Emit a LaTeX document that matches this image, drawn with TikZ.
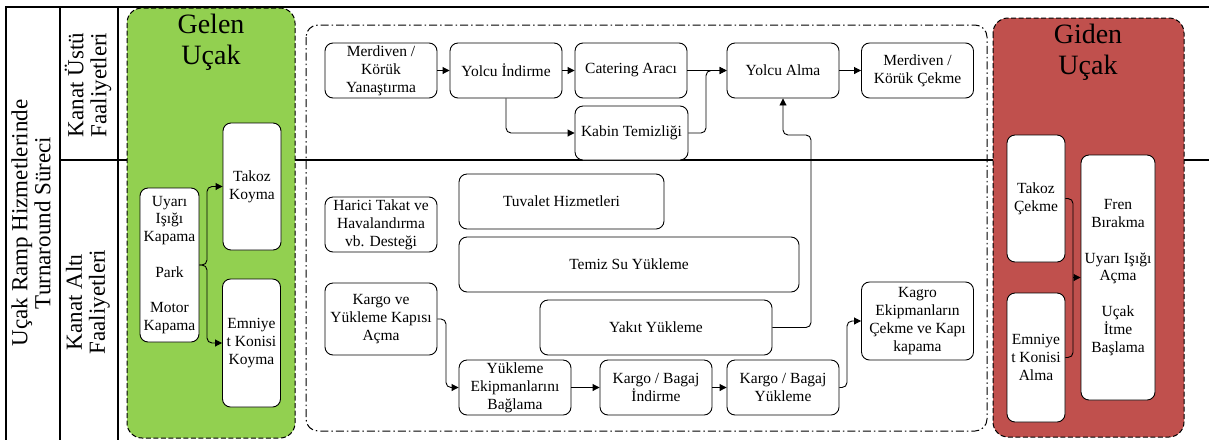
\documentclass[tikz,border=0pt]{standalone}
\usepackage{fontspec}
\setmainfont{Liberation Serif}
\usepackage{tikz}
\usetikzlibrary{arrows.meta, calc}

\definecolor{gelengreen}{RGB}{146, 208, 80}
\definecolor{gidenred}{RGB}{192, 80, 77}

\tikzset{
    actbox/.style={draw, rectangle, rounded corners=8pt, fill=white, line width=0.9pt, minimum width=112pt, minimum height=55pt, inner sep=2pt, align=center, font=\fontsize{15.5}{17.8}\selectfont},
    narrowbox/.style={actbox, minimum width=58pt},
    phasearea/.style={draw, dash pattern=on 5pt off 2.5pt, line width=1pt, rounded corners=15pt},
    flowarea/.style={draw, dash pattern=on 8pt off 3pt on 1.5pt off 3pt, line width=1pt, rounded corners=12pt},
    swimline/.style={line width=1.4pt},
    phasetitle/.style={align=center, font=\fontsize{28}{31}\selectfont},
    lanelabel/.style={rotate=90, align=center, font=\fontsize{23}{23}\selectfont},
    flowarrow/.style={-{Triangle[length=7pt, width=7pt]}, line width=0.9pt, rounded corners=5pt},
    flowline/.style={line width=0.9pt, rounded corners=5pt},
}

\begin{document}
\begin{tikzpicture}[x=1pt, y=-1pt]
    \useasboundingbox (0,0) rectangle (1209,440);

    \draw[swimline] (5,7) -- (1209,7);
    \draw[swimline] (6,7) -- (6,440);
    \draw[swimline] (60,7) -- (60,440);
    \draw[swimline] (118,7) -- (118,440);
    \draw[swimline] (60,160) -- (1209,160);

    \node[lanelabel] (process) at (31,223) {Uçak Ramp Hizmetlerinde\\Turnaround Süreci};
    \node[lanelabel] (upper) at (88,85) {Kanat Üstü\\Faaliyetleri};
    \node[lanelabel] (lower) at (88,302) {Kanat Altı\\Faaliyetleri};

    \path[phasearea, fill=gelengreen] (127,8) rectangle (295,438);
    \path[phasearea, fill=gidenred] (993,18) rectangle (1184,437);
    \path[flowarea] (306,25) rectangle (987,431);

    \node[phasetitle] (gelen) at (211,42) {Gelen\\Uçak};
    \node[phasetitle] (giden) at (1088,52) {Giden\\Uçak};

    \node[actbox, minimum width=59pt, minimum height=154pt] (uyari) at (169.5,265) {Uyarı\\Işığı\\Kapama\\[17.8pt]Park\\[17.8pt]Motor\\Kapama};
    \node[narrowbox, minimum height=127pt] (takozk) at (252,186.5) {Takoz\\Koyma};
    \node[narrowbox, minimum height=128pt] (emniyetk) at (251.5,343) {Emniye\\t Konisi\\Koyma};

    \node[actbox] (merdyan) at (381,70.5) {Merdiven /\\Körük\\Yanaştırma};
    \node[actbox] (yolcuind) at (506,70.5) {Yolcu İndirme};
    \node[actbox] (catering) at (631,70.5) {Catering Aracı};
    \node[actbox, minimum width=113pt, minimum height=54pt] (kabin) at (631.5,133) {Kabin Temizliği};
    \node[actbox] (yolcualma) at (783,70.5) {Yolcu Alma};
    \node[actbox] (merdcek) at (917.5,70.5) {Merdiven /\\Körük Çekme};

    \node[actbox] (harici) at (381,224.5) {Harici Takat ve\\Havalandırma\\vb. Desteği};
    \node[actbox, minimum width=205pt] (tuvalet) at (561.5,201.5) {Tuvalet Hizmetleri};
    \node[actbox, minimum width=340pt] (temizsu) at (629,264.5) {Temiz Su Yükleme};
    \node[actbox, minimum width=232pt] (yakit) at (656,327.5) {Yakıt Yükleme};
    \node[actbox, minimum height=72pt] (kargokapi) at (381,319) {Kargo ve\\Yükleme Kapısı\\Açma};
    \node[actbox] (yukekip) at (515,387.5) {Yükleme\\Ekipmanlarını\\Bağlama};
    \node[actbox] (indirme) at (656,387.5) {Kargo / Bagaj\\İndirme};
    \node[actbox] (yukleme) at (783,387.5) {Kargo / Bagaj\\Yükleme};
    \node[actbox, minimum height=78pt] (kagro) at (917.5,321) {Kagro\\Ekipmanların\\Çekme ve Kapı\\kapama};

    \node[narrowbox, minimum height=127pt] (takozc) at (1036,198.5) {Takoz\\Çekme};
    \node[narrowbox, minimum height=129pt] (emniyetc) at (1036,357.5) {Emniye\\t Konisi\\Alma};
    \node[actbox, minimum width=74pt, minimum height=245pt] (fren) at (1118,277.5) {Fren\\Bırakma\\[17.8pt]Uyarı Işığı\\Açma\\[17.8pt]Uçak\\İtme\\Başlama};

    \coordinate (gj) at (207,265);
    \coordinate (kj) at (706,70.5);
    \coordinate (yj) at (811,135);
    \coordinate (kkj) at (446,319);
    \coordinate (ykj) at (847,387.5);
    \coordinate (fj) at (1073,277.5);

    \draw[flowarrow] (uyari.east) -- (gj) |- (takozk.west);
    \draw[flowarrow] (uyari.east) -- (gj) |- (emniyetk.west);

    \draw[flowarrow] (merdyan) -- (yolcuind);
    \draw[flowarrow] (yolcuind) -- (catering);
    \draw[flowarrow] (yolcuind.south) |- (kabin.west);
    \draw[flowarrow] (catering) -- (yolcualma);
    \draw[flowarrow] (kabin.east) -| (kj) -- (yolcualma.west);
    \draw[flowarrow] (yolcualma) -- (merdcek);
    \draw[flowarrow] (yakit.east) -| (yj) -| (yolcualma.south);

    \draw[flowarrow] (kargokapi.east) -- (kkj) |- (yukekip.west);
    \draw[flowarrow] (yukekip) -- (indirme);
    \draw[flowarrow] (indirme) -- (yukleme);
    \draw[flowarrow] (yukleme.east) -- (ykj) |- (kagro.west);

    \draw[flowline] (takozc.east) -| (fj);
    \draw[flowline] (emniyetc.east) -| (fj);
    \draw[flowarrow] (fj) -- (fren.west);
\end{tikzpicture}
\end{document}
